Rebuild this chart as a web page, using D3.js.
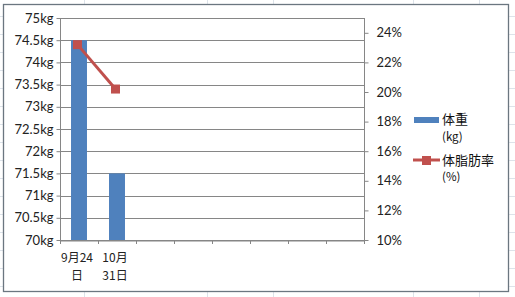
<!DOCTYPE html>
<html><head><meta charset="utf-8">
<script src="https://cdn.jsdelivr.net/npm/d3@7"></script>
<style>html,body{margin:0;padding:0;background:#fff;}svg{display:block;}</style>
</head><body>
<svg id="c" width="515" height="297"></svg>
<script>
const categories = ["9月24日","10月31日","c3","c4","c5","c6","c7","c8"];
const xLabels = [["9月24","日"],["10月","31日"],[],[],[],[],[],[]];
const weight = [74.5, 71.5, null, null, null, null, null, null];
const bodyFat = [23.2, 20.2, null, null, null, null, null, null];
const leftTicks = [70,70.5,71,71.5,72,72.5,73,73.5,74,74.5,75];
const rightTicks = [10,12,14,16,18,20,22,24];
const seriesNames = [["体重","(kg)"],["体脂肪率","(%)"]];

const svg = d3.select("#c");
const font = "Lato, 'Noto Sans CJK JP', sans-serif";
const jfont = "'Noto Sans CJK JP', sans-serif";
const axisCol = "#868686";
const blue = "#4f81bd", red = "#c0504d";

// spreadsheet background grid (outside chart)
const g0 = svg.append("g").attr("stroke","#dde3ea").attr("stroke-width",1);
[84,207,273,413,479].forEach(x=>g0.append("line").attr("x1",x+.5).attr("x2",x+.5).attr("y1",0).attr("y2",297));
d3.range(16,297,18).forEach(y=>g0.append("line").attr("x1",0).attr("x2",515).attr("y1",y+.5).attr("y2",y+.5));
// chart area
svg.append("rect").attr("x",3.5).attr("y",4.5).attr("width",505).attr("height",287)
  .attr("fill","#fff").attr("stroke","#6b7680").attr("stroke-width",1.3);

const L=60, R=364, T=18, B=240;
const x = d3.scaleBand().domain(categories).range([L,R]);
const yL = d3.scaleLinear().domain([70,75]).range([B,T]);
const yR = d3.scaleLinear().domain([10,25]).range([B,T]);

// gridlines
svg.append("g").selectAll("line").data(leftTicks).join("line")
  .attr("x1",L).attr("x2",R).attr("y1",d=>Math.round(yL(d))+.5).attr("y2",d=>Math.round(yL(d))+.5)
  .attr("stroke",axisCol).attr("stroke-width",1);

// bars
const bw = x.bandwidth()*0.42;
svg.append("g").selectAll("rect").data(weight.map((v,i)=>({v,c:categories[i]})).filter(d=>d.v!=null)).join("rect")
  .attr("x",d=>x(d.c)+x.bandwidth()/2-bw/2).attr("width",bw)
  .attr("y",d=>yL(d.v)).attr("height",d=>B-yL(d.v)).attr("fill",blue);

// axes
const aL = d3.axisLeft(yL).tickValues(leftTicks).tickFormat(d=>d+"kg").tickSize(4).tickPadding(3);
const aR = d3.axisRight(yR).tickValues(rightTicks).tickFormat(d=>d+"%").tickSize(4).tickPadding(8);
const gL = svg.append("g").attr("transform",`translate(${L+.5},0)`).call(aL);
const gR = svg.append("g").attr("transform",`translate(${R+.5},0)`).call(aR);
const aX = d3.axisBottom(x).tickSize(0).tickFormat("");
const gX = svg.append("g").attr("transform",`translate(0,${B+.5})`).call(aX);
[gL,gR,gX].forEach(g=>{g.selectAll("path,line").attr("stroke",axisCol);
  g.selectAll("text").attr("font-family",font).attr("font-size",13).attr("fill","#222");});
gL.select(".domain").attr("d",`M-0,${T}V${B}`);
gR.select(".domain").attr("d",`M0,${T}V${B}`);
// x boundary ticks
const bounds = categories.map(c=>x(c)).concat([R]);
svg.append("g").selectAll("line").data(bounds).join("line")
  .attr("x1",d=>Math.round(d)+.5).attr("x2",d=>Math.round(d)+.5).attr("y1",B).attr("y2",B+4).attr("stroke",axisCol);
// x labels
xLabels.forEach((lines,i)=>{
  lines.forEach((t,j)=>{
    svg.append("text").attr("x",x(categories[i])+x.bandwidth()/2-2).attr("y",262+j*17.5)
      .attr("text-anchor","middle").attr("font-family",jfont).attr("font-size",12).attr("fill","#222").text(t);
  });
});

// line series
const pts = bodyFat.map((v,i)=>({v,c:categories[i]})).filter(d=>d.v!=null);
svg.append("path").datum(pts)
  .attr("d",d3.line().x(d=>x(d.c)+x.bandwidth()/2-1.5).y(d=>yR(d.v)))
  .attr("fill","none").attr("stroke",red).attr("stroke-width",3);
svg.append("g").selectAll("rect").data(pts).join("rect")
  .attr("x",d=>x(d.c)+x.bandwidth()/2-1.5-4.5).attr("y",d=>yR(d.v)-4.5)
  .attr("width",9).attr("height",9).attr("fill",red);

// legend
svg.append("rect").attr("x",414).attr("y",117).attr("width",25).attr("height",6).attr("fill",blue);
svg.append("line").attr("x1",413).attr("x2",440).attr("y1",160).attr("y2",160).attr("stroke",red).attr("stroke-width",3);
svg.append("rect").attr("x",422).attr("y",156).attr("width",9).attr("height",9).attr("fill",red);
const legY = [[124,141],[165,181]];
seriesNames.forEach((n,i)=>{
  svg.append("text").attr("x",442).attr("y",legY[i][0]).attr("font-family",jfont).attr("font-size",13).attr("fill","#111").text(n[0]);
  svg.append("text").attr("x",442).attr("y",legY[i][1]).attr("font-family",jfont).attr("font-size",11.5).attr("fill","#111").text(n[1]);
});
</script>
</body></html>
